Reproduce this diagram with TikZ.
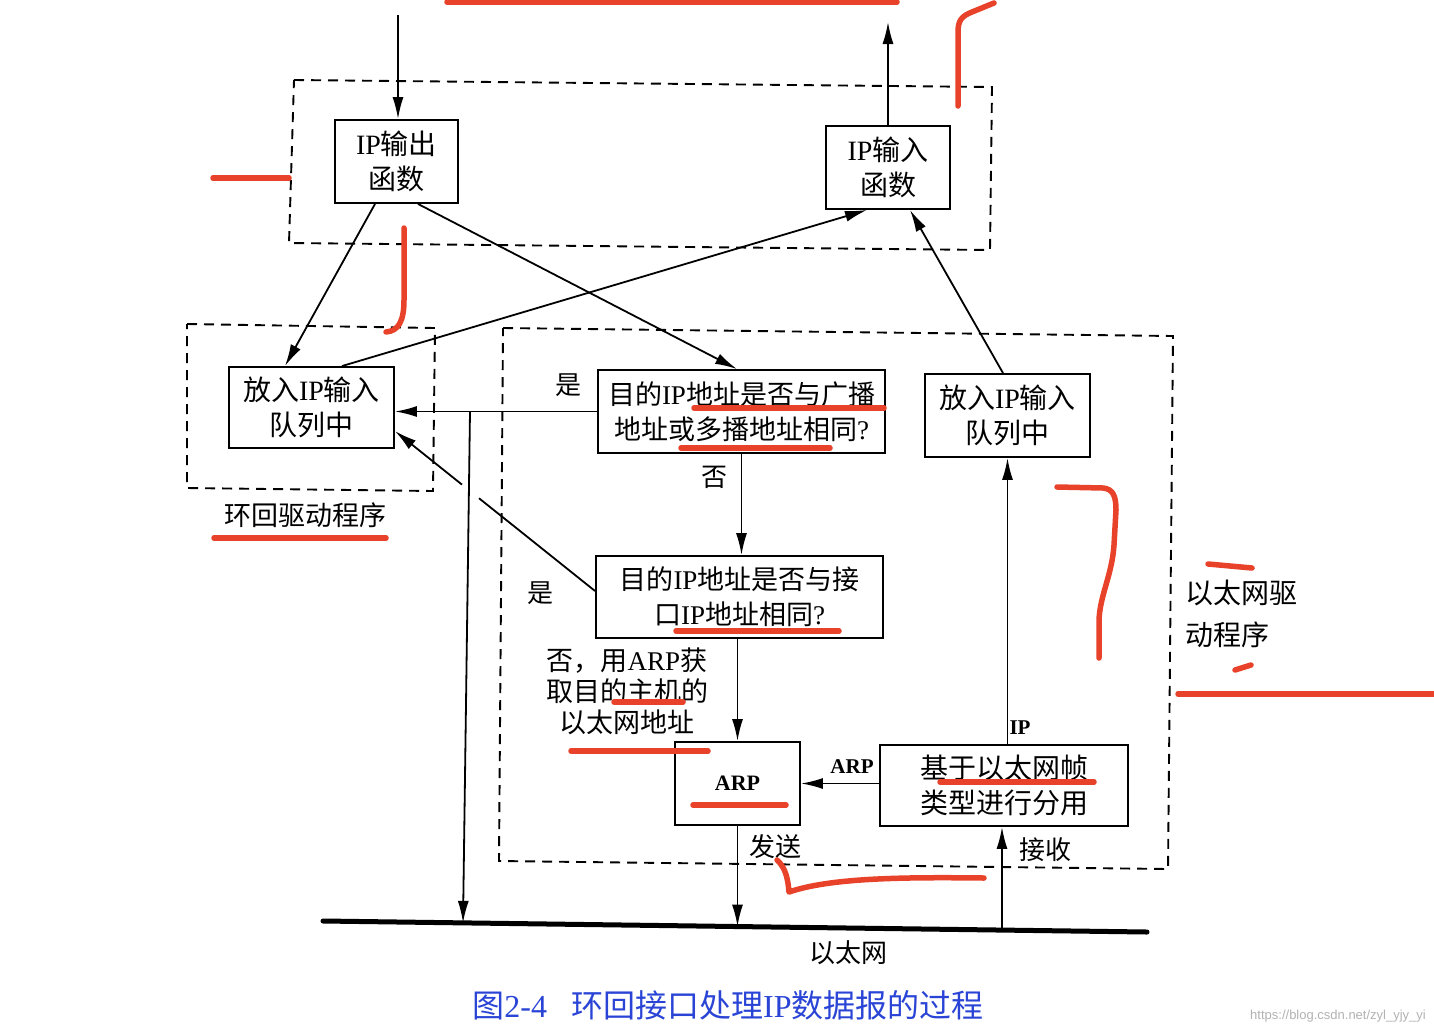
\documentclass[tikz,border=0pt]{standalone}
\usepackage{fontspec}
\setmainfont{Noto Sans CJK SC}
\newfontfamily\latf{Liberation Serif}
\newfontfamily\wmf{Liberation Sans}
\usetikzlibrary{arrows.meta,calc}
\definecolor{redpen}{HTML}{E8432A}
\definecolor{capblue}{HTML}{2A45D6}
\newcommand\ipx{{\latf IP}}

\begin{document}
\begin{tikzpicture}[x=1pt,y=-1pt,
  box/.style={draw, line width=1.9pt, align=center, inner sep=0pt,
    font=\fontsize{28}{35}\selectfont},
  widebox/.style={box, font=\fontsize{27}{35}\selectfont},
  dbox/.style={draw, line width=1.9pt, dash pattern=on 10pt off 7pt},
  arr/.style={line width=1.8pt, -{Latex[length=22pt,width=11pt]}},
  wire/.style={line width=1.8pt},
  lbl/.style={font=\fontsize{26}{30}\selectfont, inner sep=0pt},
  tag/.style={font=\latf\bfseries\fontsize{21}{24}\selectfont, inner sep=0pt},
  redpenline/.style={draw=redpen, line width=5.5pt, line cap=round, line join=round}
]
\useasboundingbox[fill=white] (0,0) rectangle (1434,1034);

% dashed module outlines
\draw[dbox] (294,80) -- (992,87) -- (990,250) -- (289,243) -- cycle;
\draw[dbox] (187,324) -- (435,328) -- (433,491) -- (187,488) -- cycle;
\draw[dbox] (503,328) -- (1173,336) -- (1168,869) -- (499,861) -- cycle;

% function boxes
\node[box, minimum width=123pt, minimum height=83pt] (ipout) at (396.5,161.5) {\ipx 输出\\函数};
\node[box, minimum width=124pt, minimum height=83pt] (ipin) at (888,167.5) {\ipx 输入\\函数};
\node[box, minimum width=165pt, minimum height=81pt] (qloop) at (311.5,407.5) {放入\ipx 输入\\队列中};
\node[widebox, minimum width=287pt, minimum height=83pt] (bcast) at (741.5,411.5) {目的\ipx 地址是否与广播\\地址或多播地址相同{\latf ?}};
\node[box, minimum width=165pt, minimum height=83pt] (qeth) at (1007.5,415.5) {放入\ipx 输入\\队列中};
\node[widebox, minimum width=287pt, minimum height=82pt] (ifaddr) at (739.5,597) {目的\ipx 地址是否与接\\口\ipx 地址相同{\latf ?}};
\node[box, minimum width=125pt, minimum height=83pt,
  font=\latf\bfseries\fontsize{22}{26}\selectfont] (arp) at (737.5,783.5) {ARP};
\node[box, minimum width=248pt, minimum height=81pt] (demux) at (1004,785.5) {基于以太网帧\\类型进行分用};

% free ends and bus points
\coordinate (topin) at (398,15);
\coordinate (topout) at (888,22);
\coordinate (busL) at (323,921);
\coordinate (busR) at (1147,932);
\coordinate (jn) at (470,411.5);
\coordinate (busA) at (463,922.9);
\coordinate (busB) at (737.5,926.5);
\coordinate (busC) at (1002,930.1);
\coordinate (dgS) at ([yshift=6pt]ifaddr.west);
\coordinate (dgE) at ([yshift=-23.5pt]qloop.east);

% Ethernet cable
\draw[line width=5pt, line cap=round] (busL) -- (busR);

% connectors
\draw[arr] (topin) -- (topin |- ipout.north);
\draw[arr] (ipin.north) -- (topout);
\draw[arr] ([xshift=-21.5pt]ipout.south) -- ([xshift=-26.5pt]qloop.north);
\draw[arr] ([xshift=21.5pt]ipout.south) -- ([xshift=-4.5pt]bcast.north);
\draw[arr] ([xshift=30.5pt]qloop.north) -- ([xshift=-21pt]ipin.south);
\draw[arr] ([xshift=-4.5pt]qeth.north) -- ([xshift=22pt]ipin.south);
\draw[arr] (bcast.west) -- (bcast.west -| qloop.east);
\draw[arr] (jn) -- (busA);
\draw[wire] (dgS) -- ($(dgS)!0.58!(dgE)$);
\draw[arr] ($(dgS)!0.665!(dgE)$) -- (dgE);
\draw[arr] (bcast.south) -- (bcast.south |- ifaddr.north);
\draw[arr] (ifaddr.south -| arp.north) -- (arp.north);
\draw[arr] (demux.west |- arp.east) -- (arp.east);
\draw[arr] (qeth.south |- demux.north) -- (qeth.south);
\draw[arr] (arp.south) -- (busB);
\draw[arr] (busC) -- (busC |- demux.south);

% connector labels
\node[lbl] (yes1) at (568,385) {是};
\node[lbl] (no1) at (714,477) {否};
\node[lbl] (yes2) at (540,593) {是};
\node[lbl, align=center, font=\fontsize{27}{31}\selectfont] (arpnote) at (627,691)
  {否，用{\latf ARP}获\\取目的主机的\\以太网地址};
\node[tag] (arptag) at (852,767) {ARP};
\node[tag] (iptag) at (1020,728) {IP};
\node[lbl] (send) at (775,847) {发送};
\node[lbl] (recv) at (1045,850) {接收};

% module and cable labels
\node[lbl, font=\fontsize{27}{30}\selectfont] (loopname) at (305,515) {环回驱动程序};
\node[lbl, anchor=west, align=left, font=\fontsize{28}{42}\selectfont] (ethname) at (1185,614) {以太网驱\\动程序};
\node[lbl] (ethlbl) at (848,953) {以太网};

% caption and watermark
\node[inner sep=0pt, font=\fontsize{32}{36}\selectfont, text=capblue] (caption) at (728,1005)
  {图{\latf 2-4}\hspace{24pt}环回接口处理{\latf IP}数据报的过程};
\node[inner sep=0pt, anchor=east, font=\wmf\fontsize{13}{15}\selectfont, text=black!30] (wm) at (1426,1016)
  {https://blog.csdn.net/zyl\_yjy\_yi};

% red pen marks
\draw[redpenline] (447,2) -- (897,2);
\draw[redpenline] (958,106) -- (958,32) .. controls (958,20) and (962,16) .. (972,12) -- (994,3);
\draw[redpenline] (213,178) -- (289,178);
\draw[redpenline] (404,228) -- (404,300) .. controls (404,322) and (398,331) .. (386,332);
\draw[redpenline] (214,538) -- (386,538);
\draw[redpenline] (694,408) -- (884,408);
\draw[redpenline] (681,448) -- (830,448);
\draw[redpenline] (1057,487) -- (1103,488) .. controls (1113,489) and (1116,496) .. (1116,510)
  -- (1114,545) .. controls (1112,575) and (1100,595) .. (1099,620) -- (1099,658);
\draw[redpenline] (676,631) -- (839,631);
\draw[redpenline] (614,702) -- (683,702);
\draw[redpenline] (571,751) -- (708,751);
\draw[redpenline] (693,805) -- (786,805);
\draw[redpenline] (940,782) -- (1094,782);
\draw[redpenline] (777,860) .. controls (786,868) and (788,880) .. (789,892)
  .. controls (830,878) and (900,877) .. (984,878);
\draw[redpenline] (1208,564) -- (1252,568);
\draw[redpenline] (1235,670) -- (1251,665);
\draw[redpenline] (1178,694) -- (1434,694);
\end{tikzpicture}
\end{document}
